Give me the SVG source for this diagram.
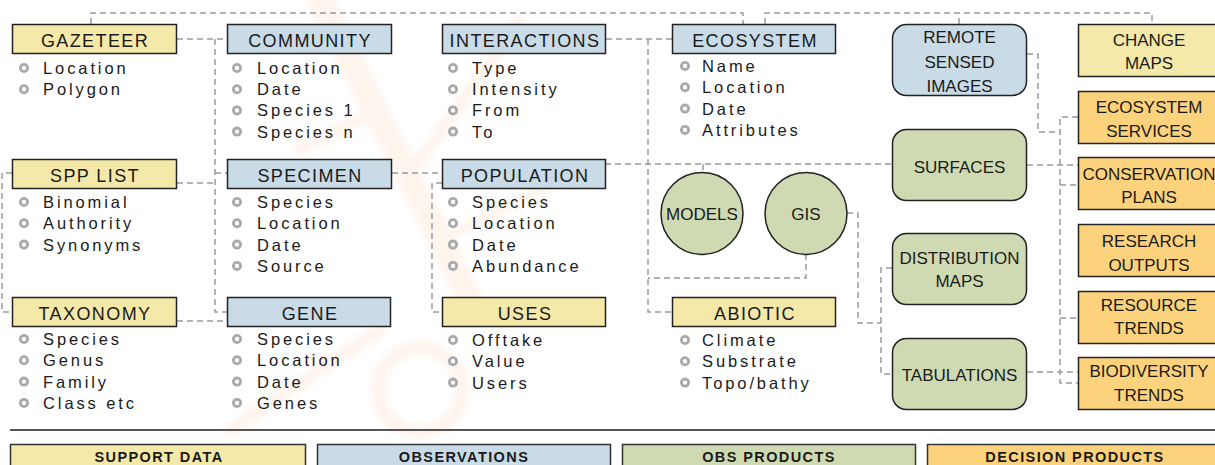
<svg xmlns="http://www.w3.org/2000/svg" width="1215" height="465" viewBox="0 0 1215 465">
<defs>
<style>
text{font-family:"Liberation Sans",Arial,sans-serif;fill:#1a1a1a}
.hb{stroke:#222;stroke-width:1.5}
.y{fill:#f5e9a9}.b{fill:#c8dbe6}.g{fill:#d0dab2}.o{fill:#fdd27c}
.ht{font-size:18px;letter-spacing:1.4px;text-anchor:middle}
.it{font-size:16.5px;letter-spacing:2.9px}
.bu{fill:#fff;stroke:#a9a9a9;stroke-width:2.8}
.rt{font-size:17px;text-anchor:middle}
.lg{font-size:14.5px;font-weight:bold;letter-spacing:1.4px;text-anchor:middle}
.conn path{fill:none;stroke:#9b9b9b;stroke-width:1.5;stroke-dasharray:6 4}
</style>
<filter id="bl"><feGaussianBlur stdDeviation="3"/></filter>
</defs>
<rect width="1215" height="465" fill="#fff"/>
<g id="watermark" opacity="0.08" filter="url(#bl)" fill="none" stroke="#f07a1a" stroke-linecap="round">
<path d="M318,-5 L470,300" stroke-width="26"/>
<path d="M378,110 L300,150" stroke-width="12"/>
<path d="M410,175 L520,20" stroke-width="12"/>
<path d="M440,240 L560,180" stroke-width="10"/>
<circle cx="420" cy="390" r="42" stroke-width="14"/>
<path d="M230,430 L380,330" stroke-width="12"/>
</g>
<g class="conn" id="connectors">
<path d="M91,24 V13 H743 V24"/>
<path d="M765,24 V13 H1152 V24"/>
<path d="M959,24 V13"/>
<path d="M177,39 H227"/>
<path d="M215,39 V312 H227"/>
<path d="M215,173 H227"/>
<path d="M177,183 H215"/>
<path d="M177,321 H227"/>
<path d="M12,173 H2 V312 H12"/>
<path d="M392,173 H442"/>
<path d="M442,183 H432 V312 H442"/>
<path d="M606,39 H672"/>
<path d="M648,39 V312 H672"/>
<path d="M806,254 V278 H648"/>
<path d="M605,164 H892"/>
<path d="M703,164 V173"/>
<path d="M847,213 H858 V323 H881"/>
<path d="M892,268 H881 V374 H892"/>
<path d="M1027,54 H1038 V132 H1060"/>
<path d="M1078,117 H1060 V383 H1078"/>
<path d="M1060,185 H1078"/>
<path d="M1060,318 H1078"/>
<path d="M1027,165 H1078"/>
<path d="M1027,372 H1078"/>
</g>
<g id="gazeteer">
<rect class="hb y" x="12.5" y="24.5" width="164" height="29"/>
<text class="ht" x="95" y="46.5">GAZETEER</text>
<circle class="bu" cx="24" cy="68" r="3.6"/><text class="it" x="43" y="74">Location</text>
<circle class="bu" cx="24" cy="89.2" r="3.6"/><text class="it" x="43" y="95.2">Polygon</text>
</g>
<g id="community">
<rect class="hb b" x="227.5" y="24.5" width="164" height="29"/>
<text class="ht" x="310" y="46.5">COMMUNITY</text>
<circle class="bu" cx="237" cy="68" r="3.6"/><text class="it" x="257" y="74">Location</text>
<circle class="bu" cx="237" cy="89.2" r="3.6"/><text class="it" x="257" y="95.2">Date</text>
<circle class="bu" cx="237" cy="110.4" r="3.6"/><text class="it" x="257" y="116.4">Species 1</text>
<circle class="bu" cx="237" cy="131.6" r="3.6"/><text class="it" x="257" y="137.6">Species n</text>
</g>
<g id="interactions">
<rect class="hb b" x="442.5" y="24.5" width="163" height="29"/>
<text class="ht" x="525" y="46.5">INTERACTIONS</text>
<circle class="bu" cx="453" cy="68" r="3.6"/><text class="it" x="472" y="74">Type</text>
<circle class="bu" cx="453" cy="89.2" r="3.6"/><text class="it" x="472" y="95.2">Intensity</text>
<circle class="bu" cx="453" cy="110.4" r="3.6"/><text class="it" x="472" y="116.4">From</text>
<circle class="bu" cx="453" cy="131.6" r="3.6"/><text class="it" x="472" y="137.6">To</text>
</g>
<g id="ecosystem">
<rect class="hb b" x="672.5" y="24.5" width="163" height="29"/>
<text class="ht" x="755" y="46.5">ECOSYSTEM</text>
<circle class="bu" cx="685" cy="66" r="3.6"/><text class="it" x="702" y="72">Name</text>
<circle class="bu" cx="685" cy="87.3" r="3.6"/><text class="it" x="702" y="93.3">Location</text>
<circle class="bu" cx="685" cy="108.6" r="3.6"/><text class="it" x="702" y="114.6">Date</text>
<circle class="bu" cx="685" cy="129.9" r="3.6"/><text class="it" x="702" y="135.9">Attributes</text>
</g>
<g id="spplist">
<rect class="hb y" x="12.5" y="159.5" width="164" height="29"/>
<text class="ht" x="95" y="181.5">SPP LIST</text>
<circle class="bu" cx="24" cy="202" r="3.6"/><text class="it" x="43" y="208">Binomial</text>
<circle class="bu" cx="24" cy="223.3" r="3.6"/><text class="it" x="43" y="229.3">Authority</text>
<circle class="bu" cx="24" cy="244.6" r="3.6"/><text class="it" x="43" y="250.6">Synonyms</text>
</g>
<g id="specimen">
<rect class="hb b" x="227.5" y="159.5" width="164" height="29"/>
<text class="ht" x="310" y="181.5">SPECIMEN</text>
<circle class="bu" cx="237" cy="202" r="3.6"/><text class="it" x="257" y="208">Species</text>
<circle class="bu" cx="237" cy="223.3" r="3.6"/><text class="it" x="257" y="229.3">Location</text>
<circle class="bu" cx="237" cy="244.6" r="3.6"/><text class="it" x="257" y="250.6">Date</text>
<circle class="bu" cx="237" cy="265.9" r="3.6"/><text class="it" x="257" y="271.9">Source</text>
</g>
<g id="population">
<rect class="hb b" x="442.5" y="159.5" width="163" height="29"/>
<text class="ht" x="525" y="181.5">POPULATION</text>
<circle class="bu" cx="453" cy="202" r="3.6"/><text class="it" x="472" y="208">Species</text>
<circle class="bu" cx="453" cy="223.3" r="3.6"/><text class="it" x="472" y="229.3">Location</text>
<circle class="bu" cx="453" cy="244.6" r="3.6"/><text class="it" x="472" y="250.6">Date</text>
<circle class="bu" cx="453" cy="265.9" r="3.6"/><text class="it" x="472" y="271.9">Abundance</text>
</g>
<g id="taxonomy">
<rect class="hb y" x="12.5" y="297.5" width="164" height="29"/>
<text class="ht" x="95" y="319.5">TAXONOMY</text>
<circle class="bu" cx="24" cy="339" r="3.6"/><text class="it" x="43" y="345">Species</text>
<circle class="bu" cx="24" cy="360.3" r="3.6"/><text class="it" x="43" y="366.3">Genus</text>
<circle class="bu" cx="24" cy="381.6" r="3.6"/><text class="it" x="43" y="387.6">Family</text>
<circle class="bu" cx="24" cy="402.9" r="3.6"/><text class="it" x="43" y="408.9">Class etc</text>
</g>
<g id="gene">
<rect class="hb b" x="227.5" y="297.5" width="163" height="29"/>
<text class="ht" x="310" y="319.5">GENE</text>
<circle class="bu" cx="237" cy="339" r="3.6"/><text class="it" x="257" y="345">Species</text>
<circle class="bu" cx="237" cy="360.3" r="3.6"/><text class="it" x="257" y="366.3">Location</text>
<circle class="bu" cx="237" cy="381.6" r="3.6"/><text class="it" x="257" y="387.6">Date</text>
<circle class="bu" cx="237" cy="402.9" r="3.6"/><text class="it" x="257" y="408.9">Genes</text>
</g>
<g id="uses">
<rect class="hb y" x="442.5" y="297.5" width="163" height="29"/>
<text class="ht" x="525" y="319.5">USES</text>
<circle class="bu" cx="453" cy="340" r="3.6"/><text class="it" x="472" y="346">Offtake</text>
<circle class="bu" cx="453" cy="361.3" r="3.6"/><text class="it" x="472" y="367.3">Value</text>
<circle class="bu" cx="453" cy="382.6" r="3.6"/><text class="it" x="472" y="388.6">Users</text>
</g>
<g id="abiotic">
<rect class="hb y" x="672.5" y="297.5" width="163" height="29"/>
<text class="ht" x="755" y="319.5">ABIOTIC</text>
<circle class="bu" cx="685" cy="340" r="3.6"/><text class="it" x="702" y="346">Climate</text>
<circle class="bu" cx="685" cy="361.3" r="3.6"/><text class="it" x="702" y="367.3">Substrate</text>
<circle class="bu" cx="685" cy="382.6" r="3.6"/><text class="it" x="702" y="388.6">Topo/bathy</text>
</g>
<g id="models">
<circle class="hb g" cx="702" cy="213.5" r="41"/>
<text class="rt" x="702" y="219.5">MODELS</text>
</g>
<g id="gis">
<circle class="hb g" cx="806" cy="213.5" r="41"/>
<text class="rt" x="806" y="219.5">GIS</text>
</g>
<g id="remote">
<rect class="hb b" x="892.5" y="24.5" width="134" height="71" rx="14"/>
<text class="rt" x="959.5" y="43">REMOTE</text>
<text class="rt" x="959.5" y="67.5">SENSED</text>
<text class="rt" x="959.5" y="91.5">IMAGES</text>
</g>
<g id="surfaces">
<rect class="hb g" x="892.5" y="129.5" width="134" height="71" rx="14"/>
<text class="rt" x="959.5" y="172.5">SURFACES</text>
</g>
<g id="distribution">
<rect class="hb g" x="892.5" y="233.5" width="134" height="71" rx="14"/>
<text class="rt" x="959.5" y="264">DISTRIBUTION</text>
<text class="rt" x="959.5" y="287">MAPS</text>
</g>
<g id="tabulations">
<rect class="hb g" x="892.5" y="338.5" width="134" height="71" rx="14"/>
<text class="rt" x="959.5" y="380.5">TABULATIONS</text>
</g>
<g id="changemaps">
<rect class="hb y" x="1078.5" y="24.5" width="140" height="52"/>
<text class="rt" x="1149" y="46">CHANGE</text>
<text class="rt" x="1149" y="69">MAPS</text>
</g>
<g id="ecoservices">
<rect class="hb o" x="1078.5" y="91.5" width="140" height="52"/>
<text class="rt" x="1149" y="113">ECOSYSTEM</text>
<text class="rt" x="1149" y="136.5">SERVICES</text>
</g>
<g id="conservation">
<rect class="hb o" x="1078.5" y="157.5" width="140" height="52"/>
<text class="rt" x="1149" y="180">CONSERVATION</text>
<text class="rt" x="1149" y="203">PLANS</text>
</g>
<g id="research">
<rect class="hb o" x="1078.5" y="224.5" width="140" height="52"/>
<text class="rt" x="1149" y="247">RESEARCH</text>
<text class="rt" x="1149" y="270.5">OUTPUTS</text>
</g>
<g id="resource">
<rect class="hb o" x="1078.5" y="291.5" width="140" height="52"/>
<text class="rt" x="1149" y="311">RESOURCE</text>
<text class="rt" x="1149" y="334">TRENDS</text>
</g>
<g id="biodiversity">
<rect class="hb o" x="1078.5" y="357.5" width="140" height="52"/>
<text class="rt" x="1149" y="377">BIODIVERSITY</text>
<text class="rt" x="1149" y="401">TRENDS</text>
</g>
<g id="legend">
<line x1="10" y1="430" x2="1215" y2="430" stroke="#555" stroke-width="2"/>
<rect x="10.5" y="444.5" width="295" height="30" fill="#f5e9a9" stroke="#333" stroke-width="1.5"/>
<text class="lg" x="159" y="461.5">SUPPORT DATA</text>
<rect x="317.5" y="444.5" width="293" height="30" fill="#c8dbe6" stroke="#333" stroke-width="1.5"/>
<text class="lg" x="464" y="461.5">OBSERVATIONS</text>
<rect x="622.5" y="444.5" width="293" height="30" fill="#d0dab2" stroke="#333" stroke-width="1.5"/>
<text class="lg" x="769" y="461.5">OBS PRODUCTS</text>
<rect x="927.5" y="444.5" width="300" height="30" fill="#fdd27c" stroke="#333" stroke-width="1.5"/>
<text class="lg" x="1075" y="461.5">DECISION PRODUCTS</text>
</g>
</svg>
